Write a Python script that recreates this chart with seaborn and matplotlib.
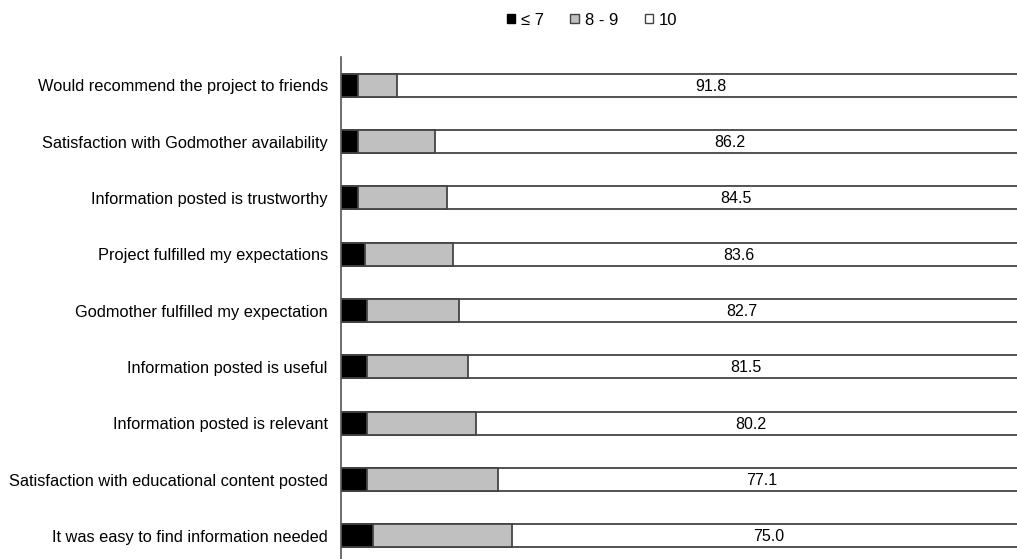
import numpy as np
import pandas as pd
import seaborn as sns
import matplotlib.pyplot as plt
from matplotlib.patches import Patch

# data (percent of respondents)
items = [
    "Would recommend the project to friends",
    "Satisfaction with Godmother availability",
    "Information posted is trustworthy",
    "Project fulfilled my expectations",
    "Godmother fulfilled my expectation",
    "Information posted is useful",
    "Information posted is relevant",
    "Satisfaction with educational content posted",
    "It was easy to find information needed",
]
low = [2.5, 2.5, 2.5, 3.5, 3.8, 3.8, 3.8, 3.8, 4.7]          # <= 7
mid = [5.7, 11.3, 13.0, 12.9, 13.5, 14.7, 16.0, 19.1, 20.3]  # 8 - 9
top = [91.8, 86.2, 84.5, 83.6, 82.7, 81.5, 80.2, 77.1, 75.0]  # 10

sns.set_theme(style="white")
plt.rcParams["font.family"] = ["Liberation Sans", "DejaVu Sans"]
plt.rcParams["text.color"] = "black"
plt.rcParams["ytick.color"] = "black"

df = pd.DataFrame({"item": items, "low": low, "mid": mid, "top": top})
df["cum_mid"] = df["low"] + df["mid"]
df["cum_top"] = df["cum_mid"] + df["top"]

fig = plt.figure(figsize=(10.17, 5.59), dpi=100)
ax = fig.add_axes([0.3353, -0.009, 0.6726, 0.907])

edge = "#444444"
for col, color in [("cum_top", "white"), ("cum_mid", "#c0c0c0"), ("low", "black")]:
    sns.barplot(data=df, x=col, y="item", orient="h", color=color,
                edgecolor=edge, linewidth=1.3, width=0.41, ax=ax)

for i, row in df.iterrows():
    ax.text(row["cum_mid"] + row["top"] / 2, i + 0.02, f"{row['top']:.1f}",
            ha="center", va="center", fontsize=11.5, color="black")

ax.set_xlim(0, 100)
ax.set_ylim(8.5, -0.5)
ax.set_xlabel("")
ax.set_ylabel("")
ax.set_xticks([])
ax.tick_params(axis="y", length=0, labelsize=11.75, pad=9.5, labelcolor="black")
for s in ["top", "right", "bottom"]:
    ax.spines[s].set_visible(False)
ax.spines["left"].set_color("#555555")
ax.spines["left"].set_linewidth(1.2)

handles = [
    Patch(facecolor="black", edgecolor="black", label="≤ 7"),
    Patch(facecolor="#c0c0c0", edgecolor=edge, label="8 - 9"),
    Patch(facecolor="white", edgecolor=edge, label="10"),
]
fig.legend(handles=handles, loc="center", bbox_to_anchor=(0.582, 0.964), ncol=3,
           frameon=False, fontsize=12, handlelength=0.5, handleheight=0.5,
           handletextpad=0.35, columnspacing=1.6)

fig.savefig("out.png", dpi=100)
